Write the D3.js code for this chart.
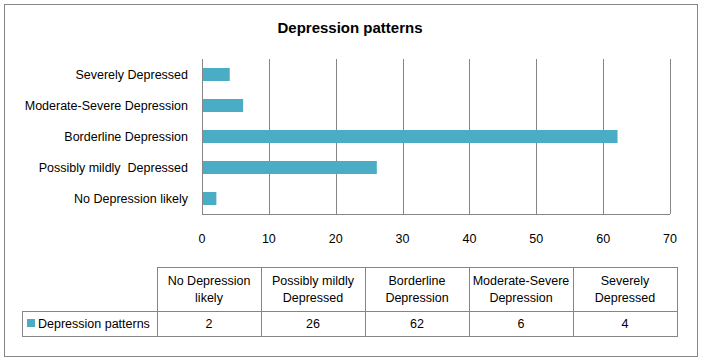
<!DOCTYPE html>
<html>
<head>
<meta charset="utf-8">
<script src="https://cdn.jsdelivr.net/npm/d3@7"></script>
<style>
  body { margin: 0; background: #fff; }
  svg text { font-family: "Liberation Sans", Arial, sans-serif; fill: #000; white-space: pre; }
</style>
</head>
<body>
<div id="chart"></div>
<script>
// chart data
var categories = ["No Depression likely", "Possibly mildly  Depressed", "Borderline Depression", "Moderate-Severe Depression", "Severely Depressed"];
var values = [2, 26, 62, 6, 4];
var xTicks = [0, 10, 20, 30, 40, 50, 60, 70];
var tableHeaders = [["No Depression", "likely"], ["Possibly mildly", "Depressed"], ["Borderline", "Depression"], ["Moderate-Severe", "Depression"], ["Severely", "Depressed"]];
var seriesName = "Depression patterns";
var chartTitle = "Depression patterns";

var width = 701, height = 361;
var barColor = "#4bacc6", lineColor = "#868686";
var fontSize = "12.5px";

var svg = d3.select("#chart").append("svg")
    .attr("width", width)
    .attr("height", height);

// outer frame
svg.append("rect")
    .attr("x", 4.5).attr("y", 4.5)
    .attr("width", 693).attr("height", 352)
    .attr("fill", "#fff")
    .attr("stroke", lineColor);

svg.append("text")
    .attr("x", 350).attr("y", 33)
    .attr("text-anchor", "middle")
    .style("font-weight", "bold")
    .style("font-size", "15px")
    .text(chartTitle);

var x = d3.scaleLinear().domain([0, 70]).range([202, 670]);
var y = d3.scaleBand()
    .domain(categories.slice().reverse())
    .range([59, 214])
    .paddingInner(0.58)
    .paddingOuter(0.29);

// gridlines
svg.append("g").selectAll("line")
    .data(xTicks)
    .enter().append("line")
    .attr("x1", function (d) { return Math.round(x(d)) + 0.5; })
    .attr("x2", function (d) { return Math.round(x(d)) + 0.5; })
    .attr("y1", 59).attr("y2", 214)
    .attr("stroke", lineColor);

svg.append("line")
    .attr("x1", x(0)).attr("x2", x(70))
    .attr("y1", 214.5).attr("y2", 214.5)
    .attr("stroke", lineColor);

// bars
svg.append("g").selectAll("rect")
    .data(categories)
    .enter().append("rect")
    .attr("x", x(0) + 1)
    .attr("y", function (d) { return y(d); })
    .attr("width", function (d, i) { return x(values[i]) - x(0); })
    .attr("height", y.bandwidth())
    .attr("fill", barColor);

// category labels
svg.append("g").selectAll("text")
    .data(categories)
    .enter().append("text")
    .attr("x", 188)
    .attr("y", function (d) { return y(d) + y.bandwidth() / 2; })
    .attr("dy", "0.35em")
    .attr("text-anchor", "end")
    .style("font-size", fontSize)
    .text(function (d) { return d; });

// x tick labels
svg.append("g").selectAll("text")
    .data(xTicks)
    .enter().append("text")
    .attr("x", function (d) { return x(d); })
    .attr("y", 239)
    .attr("dy", "0.35em")
    .attr("text-anchor", "middle")
    .style("font-size", fontSize)
    .text(function (d) { return d; });

// data table
var col = d3.scaleBand().domain(categories).range([157, 677]);
var headTop = 267, rowTop = 311, rowBottom = 336;

var table = svg.append("g");

table.selectAll(".head")
    .data(categories)
    .enter().append("rect")
    .attr("class", "head")
    .attr("x", function (d) { return Math.round(col(d)) + 0.5; })
    .attr("y", headTop + 0.5)
    .attr("width", Math.round(col.bandwidth()))
    .attr("height", rowTop - headTop)
    .attr("fill", "none")
    .attr("stroke", lineColor);

table.selectAll(".cell")
    .data(categories)
    .enter().append("rect")
    .attr("class", "cell")
    .attr("x", function (d) { return Math.round(col(d)) + 0.5; })
    .attr("y", rowTop + 0.5)
    .attr("width", Math.round(col.bandwidth()))
    .attr("height", rowBottom - rowTop)
    .attr("fill", "none")
    .attr("stroke", lineColor);

table.append("rect")
    .attr("x", 22.5).attr("y", rowTop + 0.5)
    .attr("width", 157 - 22).attr("height", rowBottom - rowTop)
    .attr("fill", "none")
    .attr("stroke", lineColor);

table.selectAll(".headtext")
    .data(categories)
    .enter().append("text")
    .attr("class", "headtext")
    .attr("x", function (d) { return col(d) + col.bandwidth() / 2; })
    .attr("y", 281)
    .attr("text-anchor", "middle")
    .style("font-size", fontSize)
    .each(function (d, i) {
        var t = d3.select(this);
        tableHeaders[i].forEach(function (line, j) {
            t.append("tspan")
                .attr("x", col(d) + col.bandwidth() / 2)
                .attr("dy", j === 0 ? "0.35em" : "17px")
                .text(line);
        });
    });

table.selectAll(".valtext")
    .data(values)
    .enter().append("text")
    .attr("class", "valtext")
    .attr("x", function (d, i) { return col(categories[i]) + col.bandwidth() / 2; })
    .attr("y", 324)
    .attr("dy", "0.35em")
    .attr("text-anchor", "middle")
    .style("font-size", fontSize)
    .text(function (d) { return d; });

table.append("rect")
    .attr("x", 27).attr("y", 319)
    .attr("width", 8).attr("height", 8)
    .attr("fill", barColor);

table.append("text")
    .attr("x", 38).attr("y", 324)
    .attr("dy", "0.35em")
    .style("font-size", fontSize)
    .text(seriesName);
</script>
</body>
</html>
